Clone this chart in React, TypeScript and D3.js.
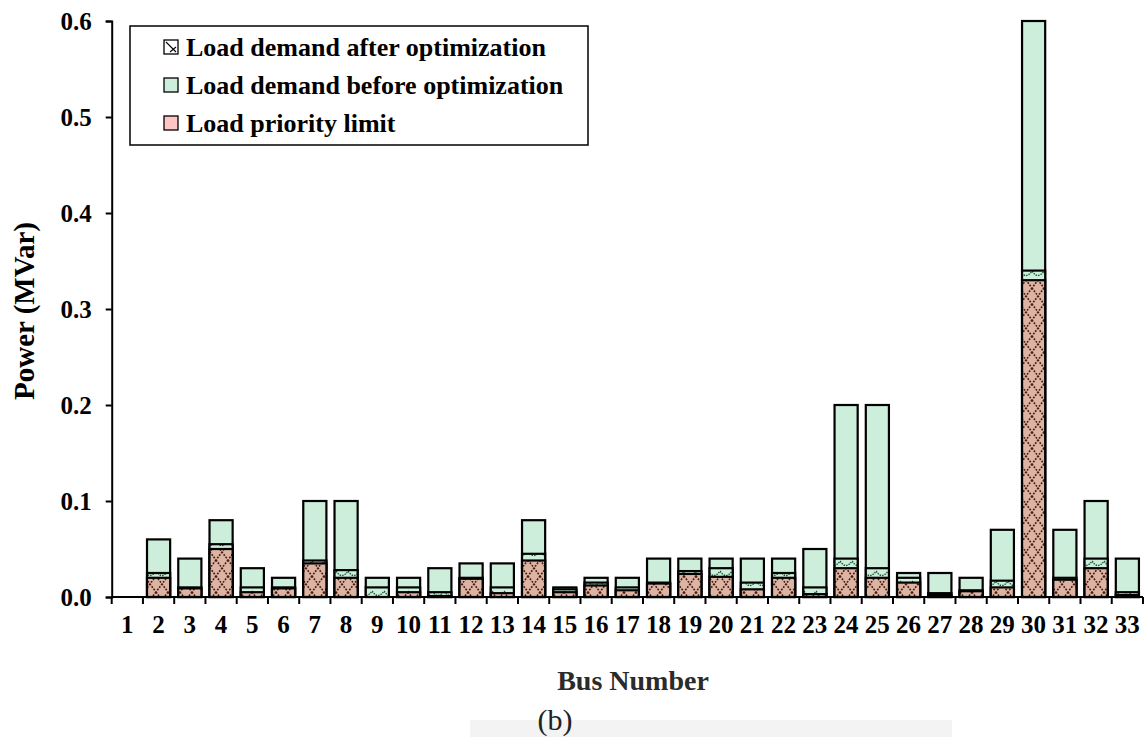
import React, { useRef, useEffect } from 'react';
import * as d3 from 'd3';

// bus numbers 1..33
const buses = d3.range(1, 34).map(String);

// reactive load (MVar) before optimization
const beforeOpt = [0, 0.06, 0.04, 0.08, 0.03, 0.02, 0.1, 0.1, 0.02, 0.02, 0.03, 0.035, 0.035, 0.08, 0.01, 0.02, 0.02,
  0.04, 0.04, 0.04, 0.04, 0.04, 0.05, 0.2, 0.2, 0.025, 0.025, 0.02, 0.07, 0.6, 0.07, 0.1, 0.04];

// reactive load after optimization
const afterOpt = [0, 0.025, 0.01, 0.055, 0.01, 0.01, 0.038, 0.028, 0.01, 0.01, 0.005, 0.02, 0.01, 0.045, 0.008, 0.015, 0.01,
  0.015, 0.027, 0.03, 0.015, 0.025, 0.01, 0.04, 0.03, 0.02, 0.004, 0.007, 0.017, 0.34, 0.02, 0.04, 0.005];

// load priority limit
const priorityLimit = [0, 0.02, 0.009, 0.05, 0.005, 0.009, 0.035, 0.02, 0, 0.005, 0.001, 0.019, 0.004, 0.038, 0.005, 0.012, 0.007,
  0.014, 0.024, 0.021, 0.008, 0.02, 0.003, 0.03, 0.02, 0.015, 0.002, 0.006, 0.01, 0.33, 0.018, 0.03, 0.002];

const yTicks = [0, 0.1, 0.2, 0.3, 0.4, 0.5, 0.6];

const legendItems = [
  'Load demand after optimization',
  'Load demand before optimization',
  'Load priority limit',
];

const W = 1144;
const H = 737;
const FONT = '"Liberation Serif", "Times New Roman", serif';

const App = () => {
  const ref = useRef(null);

  useEffect(() => {
    const svg = d3.select(ref.current)
      .attr('width', W)
      .attr('height', H);

    svg.selectAll('*').remove();

    const left = 111.7, right = 1143, top = 21, bottom = 597;

    const x = d3.scaleBand().domain(buses).range([left, right]).padding(0);
    const step = x.step();
    const barW = step * 0.74;
    const barX = (b) => x(b) + (step - barW) / 2;

    const y = d3.scaleLinear().domain([0, 0.6]).range([bottom, top]);

    // patterns
    const defs = svg.append('defs');
    const pPri = defs.append('pattern')
      .attr('id', 'pri').attr('patternUnits', 'userSpaceOnUse')
      .attr('width', 12).attr('height', 16);
    pPri.append('rect').attr('width', 12).attr('height', 16).attr('fill', '#dcb4a3');
    pPri.append('path').attr('d', 'M0,0 L12,16 M12,0 L0,16')
      .attr('stroke', '#4a1a10').attr('stroke-width', 1.6).attr('stroke-dasharray', '1.8,1.4').attr('fill', 'none');

    const pAft = defs.append('pattern')
      .attr('id', 'aft').attr('patternUnits', 'userSpaceOnUse')
      .attr('width', 12).attr('height', 10);
    pAft.append('rect').attr('width', 12).attr('height', 10).attr('fill', '#cdeedb');
    pAft.append('path').attr('d', 'M0,1 Q6,10 12,1')
      .attr('stroke', '#1d5a36').attr('stroke-width', 1.4).attr('stroke-dasharray', '1.6,1').attr('fill', 'none');

    const chart = svg.append('g');

    // bars: before (back), after, priority limit (front)
    const layers = [
      { vals: beforeOpt, fill: '#cdeedb' },
      { vals: afterOpt, fill: 'url(#aft)' },
      { vals: priorityLimit, fill: 'url(#pri)' },
    ];
    layers.forEach((layer) => {
      chart.append('g')
        .selectAll('rect')
        .data(buses.map((b, i) => ({ b, v: layer.vals[i] })).filter((d) => d.v > 0))
        .enter()
        .append('rect')
        .attr('x', (d) => barX(d.b))
        .attr('width', barW)
        .attr('y', (d) => y(d.v))
        .attr('height', (d) => bottom - y(d.v))
        .attr('fill', layer.fill)
        .attr('stroke', '#000')
        .attr('stroke-width', 2.2);
    });

    // y axis
    const yAxis = chart.append('g')
      .attr('transform', `translate(${left},0)`)
      .call(d3.axisLeft(y).tickValues(yTicks).tickFormat(d3.format('.1f')).tickSize(6).tickPadding(14));
    yAxis.select('.domain').attr('stroke-width', 2);
    yAxis.selectAll('line').attr('stroke-width', 2);
    yAxis.selectAll('text')
      .attr('font-family', FONT).attr('font-weight', 'bold').attr('font-size', 25).attr('fill', '#000');

    // x axis with ticks on category boundaries
    const xAxis = chart.append('g')
      .attr('transform', `translate(0,${bottom})`);
    xAxis.append('line')
      .attr('x1', left).attr('x2', right).attr('stroke', '#000').attr('stroke-width', 2);
    xAxis.selectAll('.tk')
      .data(buses.concat(['end']))
      .enter()
      .append('line')
      .attr('x1', (d, i) => left + i * step)
      .attr('x2', (d, i) => left + i * step)
      .attr('y1', 0).attr('y2', 7)
      .attr('stroke', '#000').attr('stroke-width', 2);
    xAxis.selectAll('text')
      .data(buses)
      .enter()
      .append('text')
      .attr('x', (d) => x(d) + step / 2)
      .attr('y', 36)
      .attr('text-anchor', 'middle')
      .attr('font-family', FONT).attr('font-weight', 'bold').attr('font-size', 25)
      .text((d) => d);

    // axis titles
    svg.append('text')
      .attr('transform', 'translate(34,311) rotate(-90)')
      .attr('text-anchor', 'middle')
      .attr('font-family', FONT).attr('font-weight', 'bold').attr('font-size', 29)
      .text('Power (MVar)');

    svg.append('text')
      .attr('x', 633).attr('y', 690)
      .attr('text-anchor', 'middle')
      .attr('font-family', FONT).attr('font-weight', 'bold').attr('font-size', 28)
      .attr('fill', '#2b2b2b')
      .text('Bus Number');

    // scanned page remnants below the chart
    svg.append('rect')
      .attr('x', 470).attr('y', 720).attr('width', 482).attr('height', 17)
      .attr('fill', '#f3f3f3');
    svg.append('text')
      .attr('x', 555).attr('y', 730)
      .attr('text-anchor', 'middle')
      .attr('font-family', FONT).attr('font-size', 30)
      .attr('fill', '#222')
      .text('(b)');

    // legend
    const lg = svg.append('g');
    lg.append('rect')
      .attr('x', 130).attr('y', 26).attr('width', 458).attr('height', 119)
      .attr('fill', '#fff').attr('stroke', '#000').attr('stroke-width', 1.5);
    const rowY = [47, 85, 123];
    legendItems.forEach((label, i) => {
      const sy = rowY[i];
      lg.append('rect')
        .attr('x', 164).attr('y', sy - 7).attr('width', 14).attr('height', 14)
        .attr('fill', i === 0 ? '#fff' : i === 1 ? '#cdeedd' : '#ffc4c4')
        .attr('stroke', '#000').attr('stroke-width', 1.3);
      if (i === 0) {
        lg.append('path')
          .attr('d', `M166,${sy - 5} L176,${sy + 5} M170,${sy + 5} L176,${sy}`)
          .attr('stroke', '#000').attr('stroke-width', 1.1);
      }
      lg.append('text')
        .attr('x', 186).attr('y', sy + 9)
        .attr('font-family', FONT).attr('font-weight', 'bold').attr('font-size', 26)
        .text(label);
    });
  }, []);

  return (
    <div style={{ position: 'absolute', left: 0, top: 0 }}>
      <svg ref={ref} style={{ display: 'block' }}></svg>
    </div>
  );
};

export default App;
